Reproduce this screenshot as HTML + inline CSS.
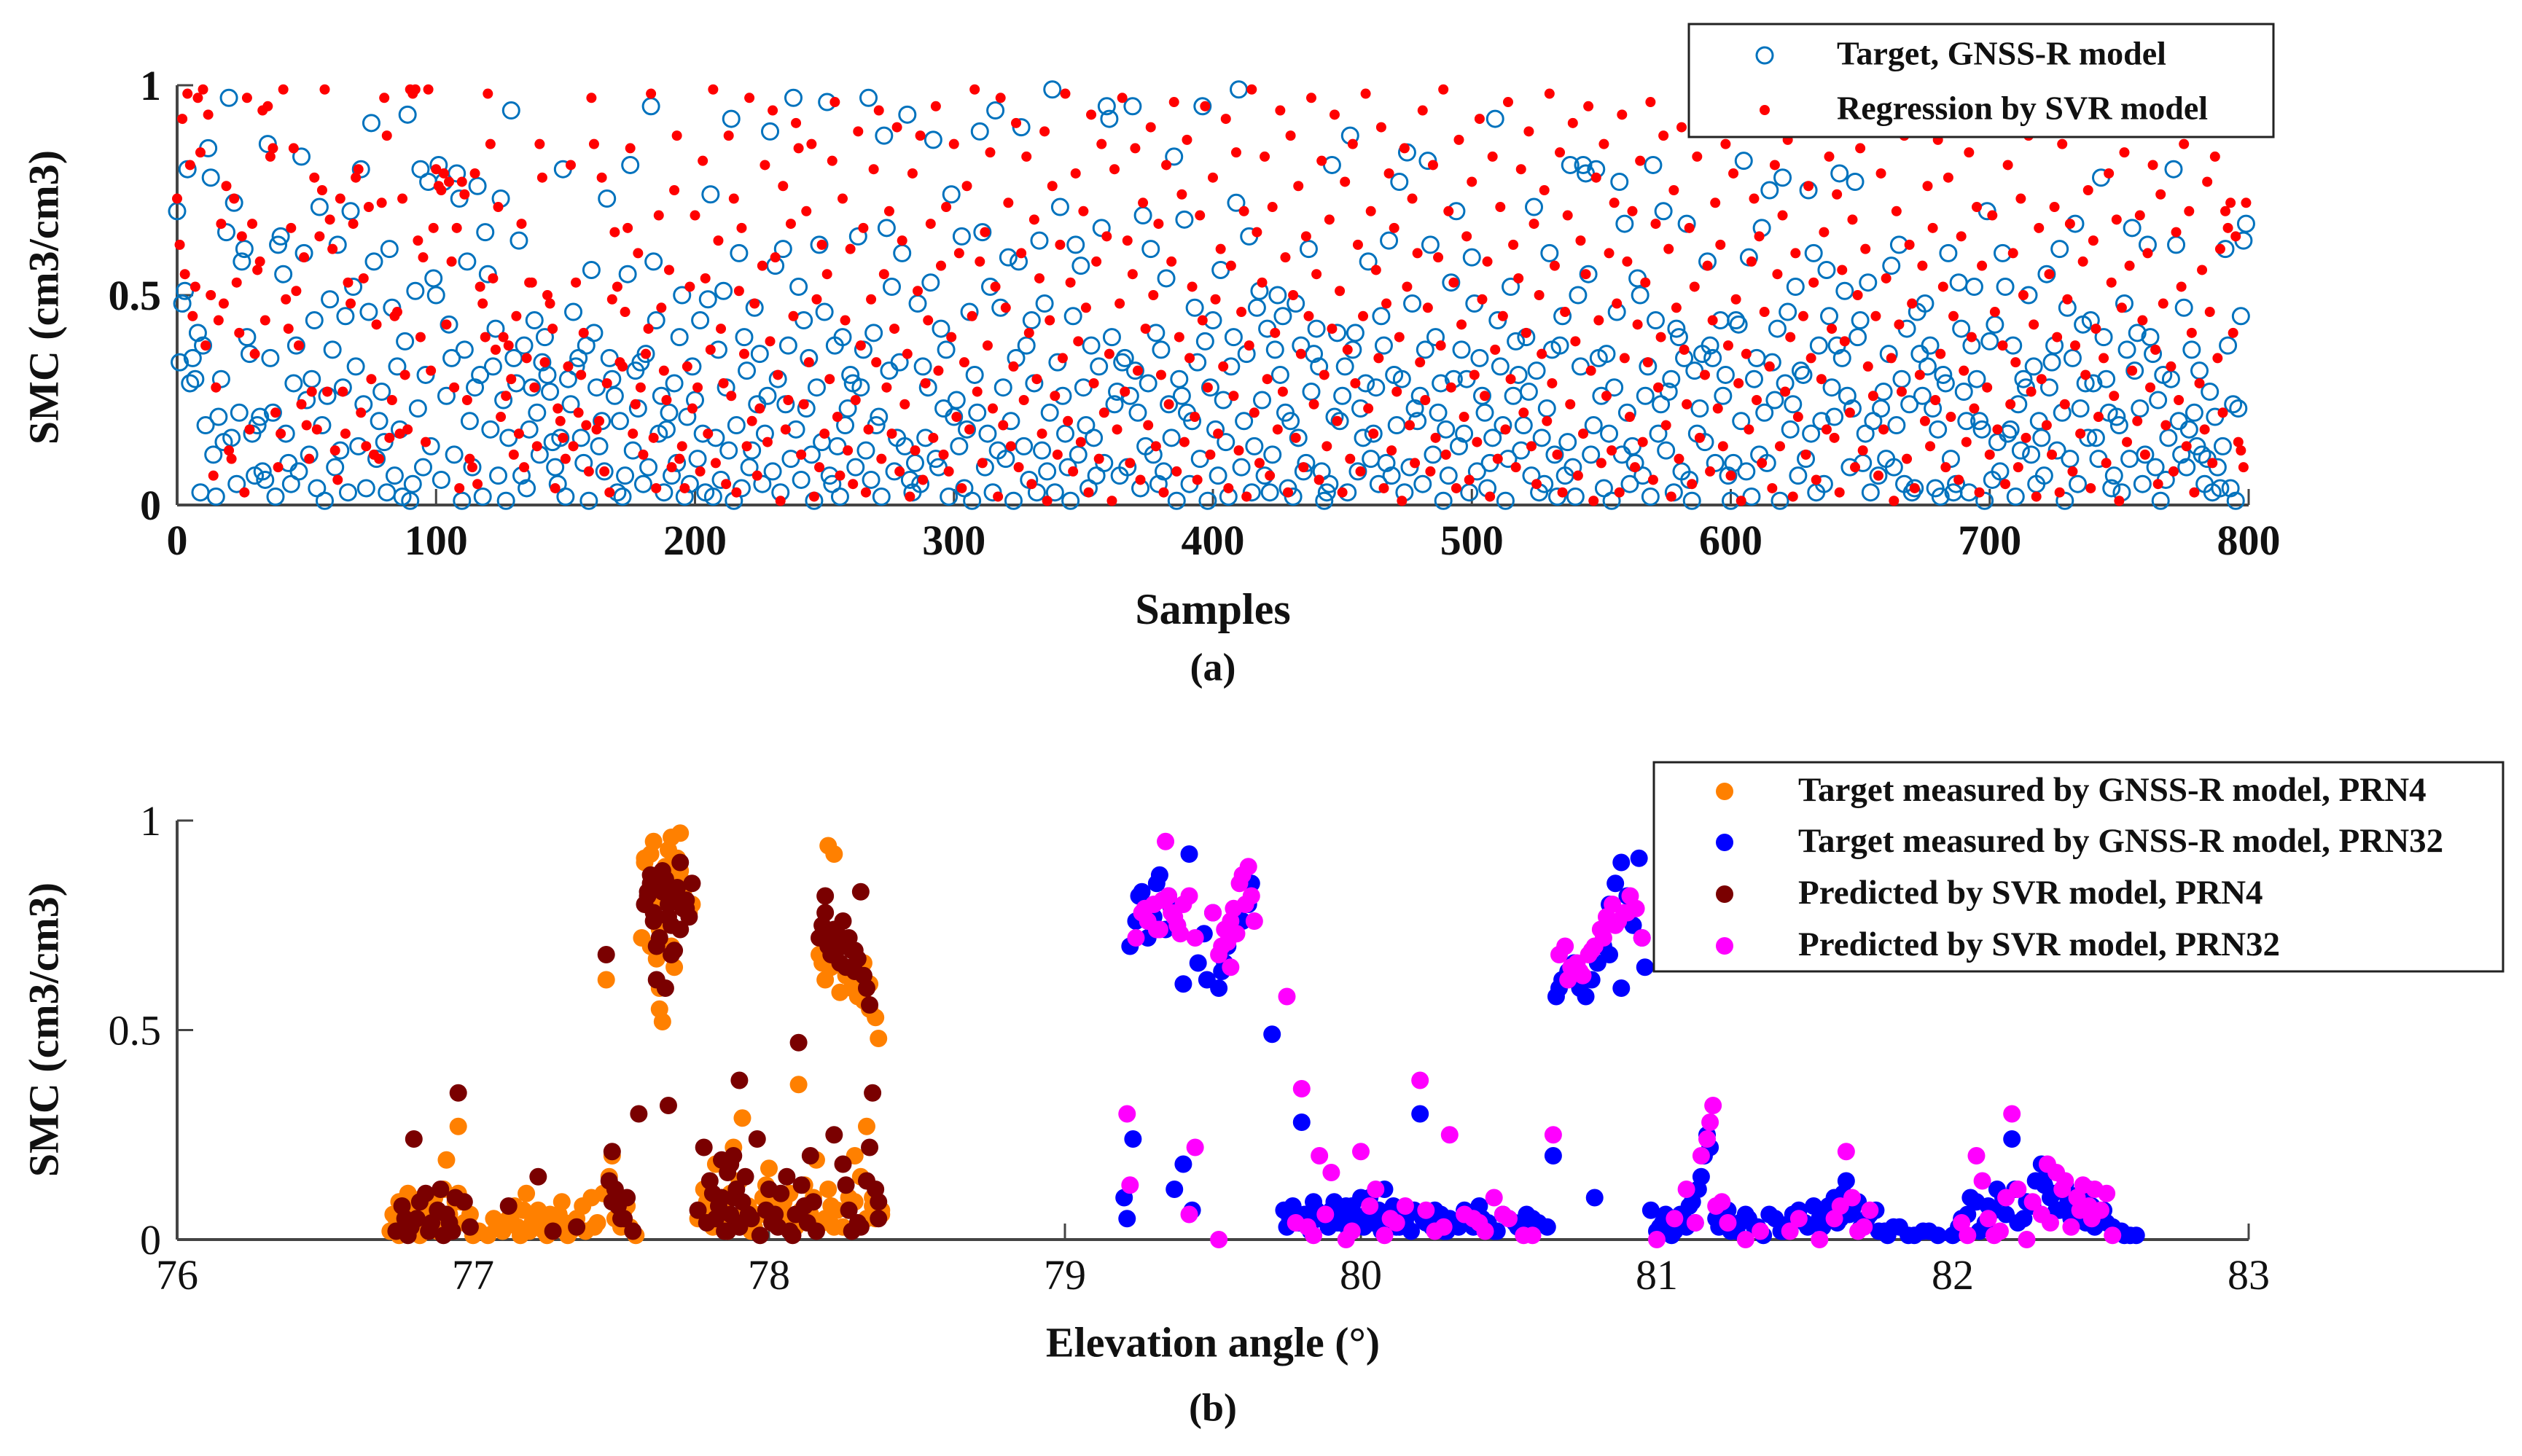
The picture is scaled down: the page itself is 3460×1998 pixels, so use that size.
<!DOCTYPE html>
<html><head><meta charset="utf-8"><title>SMC SVR charts</title>
<style>
html,body{margin:0;padding:0;background:#fff;}
svg{display:block;}
text{font-family:"Liberation Serif","Times New Roman",serif;fill:#111;}
</style></head>
<body>
<svg id="fig" xmlns="http://www.w3.org/2000/svg" width="3460" height="1998" viewBox="0 0 3460 1998">
<rect x="0" y="0" width="3460" height="1998" fill="#fff"/>
<g id="plotA"></g>
<g id="plotB"></g>

<text x="66" y="408" transform="rotate(-90 66 408)" text-anchor="middle" dominant-baseline="middle" font-size="58" font-weight="bold">SMC (cm3/cm3)</text>
<text x="1664" y="842" text-anchor="middle" dominant-baseline="middle" font-size="60" font-weight="bold">Samples</text>
<text x="1664" y="921" text-anchor="middle" dominant-baseline="middle" font-size="54" font-weight="bold">(a)</text>

<text x="66" y="1413" transform="rotate(-90 66 1413)" text-anchor="middle" dominant-baseline="middle" font-size="58" font-weight="bold">SMC (cm3/cm3)</text>
<text x="1664" y="1848" text-anchor="middle" dominant-baseline="middle" font-size="58" font-weight="bold">Elevation angle (°)</text>
<text x="1664" y="1937" text-anchor="middle" dominant-baseline="middle" font-size="54" font-weight="bold">(b)</text>

<g>
<rect x="2317" y="33" width="802" height="155" fill="#fff" stroke="#222" stroke-width="3"/>
<g>
<circle cx="2421" cy="76" r="11" fill="none" stroke="#0072BD" stroke-width="3"/>
<text x="2520" y="78" dominant-baseline="middle" font-size="46" font-weight="bold">Target, GNSS-R model</text>
</g>
<g>
<circle cx="2421" cy="151" r="7" fill="#f00"/>
<text x="2520" y="153" dominant-baseline="middle" font-size="46" font-weight="bold">Regression by SVR model</text>
</g>
</g>

<g>
<rect x="2269" y="1046" width="1165" height="287" fill="#fff" stroke="#222" stroke-width="3"/>
<g>
<circle cx="2366" cy="1086" r="12" fill="#FF8000"/>
<text x="2467" y="1088" dominant-baseline="middle" font-size="47" font-weight="bold">Target measured by GNSS-R model, PRN4</text>
</g>
<g>
<circle cx="2366" cy="1156" r="12" fill="#0000FF"/>
<text x="2467" y="1158" dominant-baseline="middle" font-size="47" font-weight="bold">Target measured by GNSS-R model, PRN32</text>
</g>
<g>
<circle cx="2366" cy="1227" r="12" fill="#7A0000"/>
<text x="2467" y="1229" dominant-baseline="middle" font-size="47" font-weight="bold">Predicted by SVR model, PRN4</text>
</g>
<g>
<circle cx="2366" cy="1298" r="12" fill="#FF00FF"/>
<text x="2467" y="1300" dominant-baseline="middle" font-size="47" font-weight="bold">Predicted by SVR model, PRN32</text>
</g>
</g>
</svg>

<script>
// ---------- Chart (a) data: values in percent SMC per sample ----------
const targetA = [
70,34,48,51,80,29,35,30,41,3,38,19,85,78,12,2,21,30,15,65,97,16,72,5,22,58,61,40,36,17,7,19,21,8,6,86,35,22,2,62,
64,55,17,10,5,29,38,8,83,60,25,12,30,44,4,71,19,1,26,49,37,9,62,13,28,45,3,70,52,33,14,80,24,4,46,91,58,11,20,27,
15,3,61,47,7,33,18,2,39,93,1,5,51,23,80,9,31,77,14,54,50,81,6,77,26,43,35,12,79,73,1,37,58,20,9,28,76,31,2,65,
55,18,33,42,7,73,25,1,16,94,35,29,63,7,38,4,18,28,44,22,12,34,40,31,27,15,9,5,16,80,2,30,24,46,33,35,16,10,38,1,
56,41,28,14,20,8,73,35,30,26,3,20,2,7,55,81,13,32,23,34,5,36,9,95,58,44,17,26,3,18,22,7,29,10,40,50,2,21,5,33,
25,11,44,17,3,49,74,2,16,37,6,51,28,13,92,1,19,60,4,40,32,9,13,47,24,36,5,17,26,89,8,57,30,3,61,24,38,11,97,18,
52,6,44,23,35,12,1,28,62,15,46,96,7,5,38,14,2,40,19,23,31,29,9,64,28,37,13,97,6,41,19,21,2,88,66,32,52,8,16,34,
60,14,93,6,3,10,48,5,33,16,28,53,87,11,9,42,23,37,2,74,21,25,14,64,4,18,46,1,31,22,89,65,9,17,52,3,94,13,47,28,
11,59,20,1,35,58,90,14,38,6,44,29,3,63,13,48,8,22,99,3,34,71,26,17,9,1,45,62,12,57,28,19,4,38,16,7,33,66,10,95,
92,40,24,27,7,34,35,9,26,95,32,22,4,69,14,29,61,12,41,5,37,8,54,24,16,83,1,30,26,68,22,5,20,47,34,11,95,39,1,28,
44,18,7,56,25,15,2,33,40,72,99,9,20,36,64,3,14,47,51,25,7,42,3,12,37,50,31,45,22,4,20,2,48,16,38,8,10,61,27,36,
42,33,8,1,3,5,81,21,41,20,26,33,3,88,37,41,8,23,16,29,58,11,17,28,5,45,38,10,63,7,31,19,77,30,3,84,9,48,23,20,
26,5,37,82,62,12,40,22,29,1,18,7,53,30,70,14,37,17,30,3,59,48,8,35,26,22,4,10,16,92,44,33,19,1,11,52,26,39,31,13,
19,40,27,7,71,32,3,16,5,23,60,37,12,2,38,45,7,15,81,9,2,50,33,81,79,55,12,19,80,35,26,4,36,17,1,28,46,77,12,67,
22,5,14,10,54,50,7,26,33,2,81,44,17,24,70,13,27,30,3,42,40,8,35,67,6,1,32,17,23,36,15,58,38,35,10,93,44,26,31,7,
1,10,44,43,20,82,8,59,2,30,35,12,66,22,10,75,34,25,42,1,78,29,46,18,24,52,7,32,31,11,75,17,60,3,38,20,5,56,45,28,
21,38,79,35,51,26,9,23,77,40,44,10,17,53,3,20,96,7,23,27,11,36,57,9,19,62,30,5,42,24,3,4,46,36,26,48,33,38,23,4,
18,2,31,29,60,11,3,5,53,42,27,20,3,38,52,30,20,18,1,70,39,6,43,15,8,60,52,17,18,38,2,24,13,30,28,50,12,33,5,20,
16,7,55,28,34,38,13,61,22,1,47,11,35,67,5,23,43,29,16,44,29,16,11,78,40,30,22,4,7,21,19,3,48,37,11,66,32,41,23,5,
12,62,40,36,9,25,1,31,6,16,30,80,62,20,12,47,9,18,37,22,14,32,12,5,11,27,3,21,9,4,14,61,38,4,24,1,23,45,63,67
];
const regressionA = [
73,62,92,55,98,81,45,52,97,84,99,38,93,50,7,28,44,67,48,76,13,11,73,53,41,64,3,97,18,67,36,56,58,94,44,95,83,85,22,9,
17,99,49,42,66,85,51,38,24,59,19,11,27,78,18,64,75,99,27,68,61,13,6,73,27,17,53,48,67,78,80,22,54,14,71,30,12,43,11,72,
97,88,16,25,45,46,17,73,31,18,99,98,99,63,40,59,15,99,32,66,80,76,75,79,43,77,58,28,66,4,77,74,25,11,9,79,5,52,48,40,
98,86,54,37,71,21,40,26,38,30,12,45,17,67,9,35,53,53,28,14,86,78,34,50,48,42,4,23,20,16,11,33,81,14,53,22,31,41,19,8,
97,86,18,20,78,8,29,3,49,65,52,34,33,46,66,85,17,24,60,28,12,36,42,98,16,4,69,47,32,25,56,9,75,88,11,14,4,33,52,23,
69,28,8,82,54,17,37,99,10,63,42,29,5,88,26,73,3,51,66,36,14,97,20,48,7,23,57,81,15,39,94,59,31,1,76,18,25,67,45,91,
85,12,24,70,34,86,2,49,9,62,17,55,30,82,96,21,7,73,44,13,61,5,25,89,38,66,3,18,49,80,34,94,11,55,28,70,17,42,90,8,
63,24,36,2,79,13,51,88,6,29,44,67,16,95,32,57,12,71,8,40,86,21,60,4,34,76,18,45,99,27,58,10,65,38,84,23,52,2,97,19,
47,72,14,33,91,9,60,25,83,41,5,68,30,54,17,89,1,44,76,26,12,62,35,98,20,53,8,79,39,15,70,47,3,93,29,58,11,86,22,64,
36,1,80,18,48,97,27,63,10,55,85,32,6,72,42,19,90,50,14,67,31,3,81,24,58,96,8,40,74,15,87,35,52,21,6,69,44,95,28,12,
78,49,17,61,33,92,4,57,26,84,13,46,70,2,38,99,22,65,10,53,83,30,7,71,41,18,94,27,59,3,88,50,16,76,36,9,64,45,97,24,
55,6,82,31,14,68,42,93,20,51,3,77,37,11,86,29,62,8,45,98,23,70,17,56,35,90,4,48,79,13,66,27,40,1,85,52,19,73,10,60,
34,94,25,47,8,81,16,59,38,99,12,70,28,53,4,87,43,21,64,6,77,31,15,92,49,26,58,2,83,37,11,71,45,18,96,30,62,9,54,80,
22,41,89,14,67,5,50,36,75,20,98,29,57,12,84,3,46,69,24,91,39,7,63,17,55,95,32,1,78,44,10,86,26,60,13,72,48,3,93,35,
58,21,70,9,43,82,15,53,34,96,6,67,28,40,88,19,61,2,75,47,11,90,37,24,66,5,52,83,16,99,31,57,8,44,72,23,62,14,86,38,
7,79,49,29,1,94,36,18,58,73,25,64,10,46,92,33,4,81,55,14,69,27,87,40,2,60,21,97,45,12,76,35,53,6,89,30,65,18,83,42,
16,74,3,56,39,90,22,68,9,50,85,13,61,33,98,26,45,7,79,18,54,92,35,1,70,43,27,88,11,62,48,4,95,31,57,20,76,14,66,25,
87,36,52,9,78,21,45,97,6,64,32,15,84,40,23,71,3,57,93,28,12,69,46,18,99,38,5,81,24,60,34,9,73,50,16,88,27,43,2,66,
30,93,19,55,12,71,40,3,86,24,49,67,8,38,95,17,58,31,75,4,63,42,21,90,35,10,79,53,26,68,1,47,84,15,57,32,97,20,69,44,
12,60,28,81,37,5,74,48,19,92,33,8,65,25,52,86,14,70,41,3,97,29,56,18,77,46,10,83,35,61,22,70,66,72,41,64,15,13,9,72
];
const xTicksA = [0,100,200,300,400,500,600,700,800];
const yTicksA = [0,0.5,1];
const yTickLabelsA = ["0","0.5","1"];

// ---------- Chart (b) data ----------
const prn4TargetX = [76.72,76.74,76.75,76.77,76.78,76.80,76.82,76.83,76.85,76.87,76.88,76.90,76.92,76.93,76.95,76.96,76.98,77.00,76.76,76.84,76.91,76.95,76.79,76.86,76.89,
77.05,77.08,77.10,77.12,77.14,77.16,77.18,77.20,77.22,77.24,77.26,77.28,77.30,77.32,77.35,77.38,77.40,77.42,77.45,77.46,77.47,77.50,77.52,77.55,77.13,77.21,77.27,
77.57,77.58,77.60,77.61,77.62,77.63,77.64,77.65,77.66,77.67,77.68,77.70,77.72,77.74,77.60,77.63,77.66,77.70,77.62,77.64,77.58,77.69,77.73,
77.78,77.80,77.82,77.84,77.86,77.88,77.90,77.92,77.95,77.98,78.00,78.02,78.05,78.08,78.10,78.12,78.14,78.16,78.18,78.20,78.22,78.24,78.26,78.28,78.30,78.32,78.34,78.36,78.37,
78.18,78.20,78.23,78.27,78.31,78.35,78.38,78.25,78.30,78.17,78.22,78.29,78.33,78.36,77.83,77.91,78.04,78.13,
76.73,76.75,76.78,76.81,76.83,76.86,76.88,76.92,76.94,76.97,76.99,77.02,77.07,77.11,77.15,77.17,77.19,77.23,77.25,77.29,77.31,77.33,77.37,77.41,77.44,77.48,77.51,77.53,
77.76,77.79,77.81,77.85,77.87,77.89,77.93,77.94,77.97,77.99,78.01,78.03,78.06,78.07,78.09,78.11,78.15,78.19,78.21,78.25,78.29,78.33,78.35,78.38,
77.61,77.63,77.65,77.67,77.69,77.71,78.19,78.21,78.24,78.28,78.32,78.34];
const prn4TargetY = [0.02,0.05,0.09,0.03,0.11,0.06,0.01,0.08,0.04,0.10,0.02,0.12,0.06,0.03,0.27,0.09,0.04,0.01,0.07,0.05,0.19,0.11,0.02,0.08,0.04,
0.01,0.03,0.02,0.05,0.08,0.01,0.11,0.04,0.07,0.02,0.06,0.03,0.09,0.01,0.05,0.02,0.10,0.04,0.62,0.15,0.20,0.03,0.08,0.01,0.06,0.03,0.02,
0.72,0.90,0.92,0.95,0.67,0.55,0.52,0.89,0.86,0.96,0.65,0.97,0.85,0.80,0.70,0.60,0.93,0.88,0.82,0.76,0.91,0.84,0.78,
0.12,0.05,0.18,0.08,0.02,0.22,0.14,0.07,0.03,0.10,0.17,0.05,0.09,0.02,0.37,0.13,0.06,0.19,0.66,0.94,0.92,0.70,0.63,0.60,0.58,0.66,0.55,0.53,0.48,
0.04,0.12,0.07,0.10,0.15,0.08,0.06,0.71,0.62,0.68,0.03,0.20,0.27,0.05,0.06,0.29,0.11,0.04,
0.06,0.01,0.08,0.03,0.10,0.05,0.07,0.02,0.09,0.04,0.06,0.02,0.05,0.04,0.03,0.07,0.02,0.05,0.01,0.06,0.04,0.02,0.08,0.03,0.11,0.05,0.07,0.03,
0.05,0.09,0.03,0.06,0.11,0.04,0.08,0.02,0.06,0.13,0.04,0.09,0.06,0.11,0.03,0.07,0.10,0.05,0.08,0.03,0.09,0.05,0.10,0.07,
0.80,0.74,0.87,0.70,0.91,0.83,0.62,0.65,0.59,0.64,0.57,0.61];
const prn4PredX = [76.74,76.76,76.78,76.81,76.84,76.86,76.89,76.91,76.93,76.95,76.97,76.99,76.80,76.90,
77.12,77.22,77.35,77.45,77.47,77.48,77.49,77.50,77.52,77.54,77.56,
77.58,77.59,77.60,77.61,77.62,77.63,77.64,77.65,77.66,77.67,77.68,77.69,77.70,77.71,77.72,77.73,77.74,77.62,77.65,77.67,77.60,
77.66,77.76,77.78,77.80,77.82,77.84,77.86,77.88,77.90,77.93,77.96,78.00,78.03,78.06,78.08,78.10,78.12,78.14,
78.17,78.18,78.19,78.20,78.21,78.22,78.23,78.24,78.25,78.26,78.27,78.28,78.29,78.30,78.31,78.32,78.33,78.34,78.35,78.36,78.37,
78.22,78.26,78.30,78.34,78.37,78.28,77.84,77.87,77.89,78.02,
76.77,76.79,76.82,76.85,76.88,76.92,76.94,77.27,77.46,77.47,77.51,
77.79,77.81,77.83,77.85,77.86,77.87,77.88,77.89,77.90,77.91,77.92,77.94,77.97,77.99,78.01,78.04,78.07,78.09,78.11,78.13,78.15,78.16,78.25,78.27,78.31,78.33,
77.59,77.61,77.63,77.64,77.66,77.68,77.70,77.72,78.19,78.21,78.23,78.25,78.29];
const prn4PredY = [0.02,0.08,0.01,0.05,0.11,0.04,0.12,0.06,0.02,0.35,0.09,0.03,0.24,0.01,
0.08,0.15,0.03,0.68,0.21,0.12,0.08,0.05,0.10,0.02,0.30,
0.80,0.83,0.85,0.78,0.70,0.72,0.88,0.86,0.80,0.75,0.69,0.84,0.90,0.79,0.81,0.77,0.85,0.62,0.60,0.68,0.87,
0.32,0.07,0.22,0.14,0.05,0.19,0.02,0.10,0.38,0.06,0.24,0.12,0.03,0.15,0.01,0.47,0.08,0.20,
0.72,0.75,0.82,0.70,0.68,0.74,0.73,0.66,0.70,0.65,0.72,0.69,0.64,0.67,0.83,0.63,0.60,0.56,0.35,0.12,0.05,
0.25,0.13,0.04,0.22,0.09,0.02,0.10,0.18,0.04,0.06,
0.05,0.03,0.09,0.02,0.07,0.04,0.10,0.02,0.14,0.09,0.05,
0.04,0.11,0.08,0.02,0.16,0.06,0.20,0.12,0.03,0.09,0.15,0.05,0.01,0.07,0.04,0.11,0.02,0.06,0.13,0.04,0.09,0.02,0.18,0.07,0.03,0.14,
0.82,0.76,0.86,0.83,0.77,0.81,0.74,0.79,0.78,0.73,0.70,0.76,0.69];
const prn32TargetX = [79.20,79.22,79.24,79.25,79.26,79.27,79.28,79.30,79.31,79.32,79.34,79.35,79.36,79.38,79.40,79.42,79.45,79.47,79.48,79.50,79.52,79.53,79.54,79.55,79.56,79.57,79.58,79.60,79.62,79.63,
79.70,79.74,79.76,79.78,79.80,79.82,79.84,79.86,79.88,79.90,79.92,79.95,79.98,80.00,80.02,80.05,80.08,80.10,80.13,80.16,80.20,80.22,80.25,80.28,80.30,80.33,80.36,80.40,80.43,80.46,80.50,80.53,80.56,80.60,80.63,
79.21,79.23,79.37,79.40,79.43,80.65,80.66,80.67,80.68,80.70,80.72,80.74,80.76,80.78,80.80,80.82,80.84,80.86,80.88,80.90,80.92,80.94,80.95,80.96,80.88,80.84,
80.79,80.98,81.00,81.02,81.05,81.08,81.10,81.12,81.14,81.16,81.17,81.18,81.20,81.22,81.25,81.28,81.30,81.33,81.36,81.40,81.43,81.46,81.50,81.53,81.56,81.60,81.62,81.64,81.66,81.68,81.70,81.72,81.75,81.78,81.80,81.85,81.90,81.95,82.00,
82.03,82.06,82.09,82.12,82.15,82.18,82.20,82.22,82.25,82.28,82.30,82.32,82.34,82.36,82.38,82.40,82.42,82.44,82.46,82.48,82.50,82.52,82.55,82.58,82.62,
79.75,79.77,79.79,79.81,79.83,79.85,79.87,79.89,79.91,79.93,79.94,79.96,79.97,79.99,80.01,80.03,80.04,80.06,80.07,80.09,80.11,80.12,80.14,80.15,80.17,80.18,80.21,80.24,80.27,80.29,80.32,80.35,80.38,80.41,80.45,80.48,80.52,80.55,80.58,
81.01,81.03,81.06,81.09,81.11,81.13,81.15,81.21,81.24,81.27,81.31,81.34,81.38,81.42,81.45,81.48,81.51,81.55,81.58,81.61,81.63,81.65,81.67,81.69,81.71,81.74,81.77,81.82,81.87,81.92,
82.02,82.05,82.08,82.11,82.14,82.17,82.21,82.24,82.27,82.31,82.33,82.35,82.37,82.39,82.41,82.43,82.45,82.47,82.49,82.51,82.54,82.57,82.60];
const prn32TargetY = [0.10,0.70,0.76,0.82,0.83,0.78,0.72,0.77,0.85,0.87,0.74,0.82,0.79,0.75,0.61,0.92,0.66,0.73,0.62,0.78,0.60,0.64,0.66,0.70,0.74,0.76,0.78,0.76,0.80,0.85,
0.49,0.07,0.05,0.06,0.28,0.03,0.09,0.05,0.06,0.07,0.04,0.08,0.03,0.10,0.06,0.04,0.12,0.05,0.03,0.06,0.30,0.04,0.07,0.02,0.05,0.03,0.06,0.08,0.04,0.02,0.05,0.03,0.06,0.04,0.03,
0.05,0.24,0.12,0.18,0.07,0.20,0.58,0.60,0.62,0.64,0.66,0.60,0.58,0.62,0.66,0.70,0.80,0.85,0.90,0.82,0.75,0.91,0.72,0.65,0.60,0.68,
0.10,0.07,0.02,0.04,0.01,0.06,0.03,0.09,0.12,0.20,0.25,0.22,0.05,0.08,0.02,0.04,0.06,0.03,0.01,0.05,0.02,0.06,0.04,0.08,0.03,0.10,0.05,0.14,0.07,0.09,0.04,0.06,0.02,0.01,0.03,0.01,0.02,0.01,0.01,
0.05,0.10,0.02,0.08,0.12,0.06,0.24,0.04,0.09,0.14,0.18,0.16,0.11,0.07,0.13,0.05,0.10,0.08,0.12,0.03,0.06,0.04,0.02,0.01,0.01,
0.03,0.08,0.04,0.06,0.02,0.07,0.05,0.03,0.09,0.04,0.06,0.02,0.08,0.05,0.03,0.10,0.04,0.07,0.02,0.05,0.08,0.03,0.06,0.04,0.02,0.07,0.05,0.03,0.06,0.02,0.04,0.07,0.03,0.05,0.02,0.06,0.04,0.02,0.05,
0.03,0.06,0.02,0.05,0.08,0.04,0.15,0.03,0.07,0.02,0.05,0.03,0.06,0.02,0.04,0.07,0.03,0.05,0.08,0.04,0.11,0.06,0.09,0.03,0.05,0.07,0.02,0.03,0.01,0.02,
0.03,0.06,0.09,0.04,0.07,0.10,0.12,0.05,0.08,0.13,0.10,0.07,0.12,0.09,0.06,0.11,0.04,0.08,0.05,0.07,0.03,0.02,0.01];
const prn32PredX = [79.21,79.24,79.26,79.28,79.30,79.32,79.34,79.35,79.36,79.38,79.40,79.42,79.44,79.50,79.52,79.54,79.55,79.56,79.57,79.58,79.59,79.60,79.62,79.63,79.64,
79.22,79.42,79.44,79.52,79.75,79.78,79.80,79.84,79.86,79.90,79.95,80.00,80.05,80.10,80.15,80.20,80.25,80.30,80.35,80.40,80.45,80.50,80.55,80.65,
80.67,80.69,80.71,80.73,80.75,80.77,80.79,80.81,80.83,80.85,80.87,80.89,80.91,80.93,80.95,
81.00,81.06,81.10,81.15,81.17,81.18,81.19,81.20,81.24,81.30,81.45,81.55,81.60,81.64,81.66,81.68,81.72,
82.03,82.05,82.08,82.10,82.14,82.18,82.20,82.22,82.25,82.30,82.32,82.35,82.38,82.40,82.42,82.44,82.46,82.48,82.50,82.52,82.54,
79.27,79.31,79.33,79.37,79.39,79.53,79.56,79.61,80.70,80.74,80.78,80.82,80.86,80.90,
79.82,79.88,79.97,80.03,80.08,80.12,80.22,80.28,80.38,80.42,80.48,80.58,81.13,81.22,81.35,81.48,81.62,81.70,82.12,82.16,82.27,82.33,82.37,82.43,82.47];
const prn32PredY = [0.30,0.72,0.78,0.76,0.80,0.74,0.95,0.82,0.78,0.75,0.80,0.82,0.72,0.78,0.68,0.74,0.71,0.65,0.79,0.73,0.85,0.87,0.89,0.82,0.76,
0.13,0.06,0.22,0.00,0.58,0.04,0.36,0.01,0.20,0.16,0.00,0.21,0.12,0.05,0.08,0.38,0.02,0.25,0.06,0.04,0.10,0.05,0.01,0.25,
0.68,0.70,0.65,0.66,0.63,0.68,0.70,0.74,0.77,0.80,0.76,0.78,0.82,0.79,0.72,
0.00,0.05,0.12,0.20,0.24,0.28,0.32,0.08,0.04,0.00,0.02,0.00,0.05,0.21,0.10,0.02,0.07,
0.04,0.01,0.20,0.14,0.01,0.10,0.30,0.12,0.00,0.06,0.18,0.16,0.14,0.03,0.10,0.13,0.08,0.12,0.07,0.11,0.01,
0.79,0.74,0.81,0.77,0.73,0.70,0.76,0.80,0.62,0.64,0.69,0.72,0.75,0.78,
0.03,0.06,0.02,0.08,0.01,0.04,0.07,0.03,0.05,0.02,0.06,0.01,0.04,0.09,0.02,0.05,0.08,0.03,0.05,0.02,0.09,0.04,0.12,0.07,0.05];
const xTicksB = [76,77,78,79,80,81,82,83];
const yTicksB = [0,0.5,1];
const yTickLabelsB = ["0","0.5","1"];

const NS = "http://www.w3.org/2000/svg";
function mk(tag, attrs, parent){
  const el = document.createElementNS(NS, tag);
  for (const k in attrs) el.setAttribute(k, attrs[k]);
  parent.appendChild(el);
  return el;
}

const A = {x0:243, x1:3085, y0:693, y1:117, xmin:0, xmax:800};
const B = {x0:243, x1:3085, y0:1701, y1:1126, xmin:76, xmax:83};
function sx(ax, v){ return ax.x0 + (v - ax.xmin) / (ax.xmax - ax.xmin) * (ax.x1 - ax.x0); }
function sy(ax, v){ return ax.y0 + v * (ax.y1 - ax.y0); }

function drawAxes(g, ax, xt, yt, ytl, bold, tag){
  const axisColor = "#444";
  const yl = mk("line", {x1:ax.x0, y1:ax.y0, x2:ax.x0, y2:ax.y1, stroke:axisColor, "stroke-width":4}, g);
  
  
  const xl = mk("line", {x1:ax.x0, y1:ax.y0, x2:ax.x1, y2:ax.y0, stroke:axisColor, "stroke-width":4}, g);
  
  
  xt.forEach(function(v){
    const x = sx(ax, v);
    const t = mk("line", {x1:x, y1:ax.y0, x2:x, y2:ax.y0 - 22, stroke:axisColor, "stroke-width":3}, g);
    
    
    const lb = mk("text", {x:x, y:ax.y0 + 68, "text-anchor":"middle", "font-size":58, "font-weight": bold ? "bold" : "normal"}, g);
    lb.textContent = String(v);
    
    
  });
  yt.forEach(function(v, i){
    const y = sy(ax, v);
    const t = mk("line", {x1:ax.x0, y1:y, x2:ax.x0 + 22, y2:y, stroke:axisColor, "stroke-width":3}, g);
    
    
    const lb = mk("text", {x:ax.x0 - 22, y:y + 20, "text-anchor":"end", "font-size":58, "font-weight": bold ? "bold" : "normal"}, g);
    lb.textContent = ytl[i];
    
    
  });
}

const gA = document.getElementById("plotA");
drawAxes(gA, A, xTicksA, yTicksA, yTickLabelsA, true, "chart-a");
const gTarget = mk("g", {}, gA);


targetA.forEach(function(v, i){
  const c = mk("circle", {cx:sx(A, i), cy:sy(A, v/100), r:11, fill:"none", stroke:"#0072BD", "stroke-width":3}, gTarget);
  
  
});
const gReg = mk("g", {}, gA);


regressionA.forEach(function(v, i){
  const c = mk("circle", {cx:sx(A, i), cy:sy(A, v/100), r:7, fill:"#FF0000"}, gReg);
  
  
});

const gB = document.getElementById("plotB");
drawAxes(gB, B, xTicksB, yTicksB, yTickLabelsB, false, "chart-b");
function drawDots(xs, ys, color, name){
  const g = mk("g", {}, gB);
  
  
  xs.forEach(function(xv, i){
    const c = mk("circle", {cx:sx(B, xv), cy:sy(B, ys[i]), r:12, fill:color}, g);
    
    
  });
}
drawDots(prn4TargetX, prn4TargetY, "#FF8000", "series-target-prn4");
drawDots(prn4PredX, prn4PredY, "#7A0000", "series-predicted-prn4");
drawDots(prn32TargetX, prn32TargetY, "#0000FF", "series-target-prn32");
drawDots(prn32PredX, prn32PredY, "#FF00FF", "series-predicted-prn32");
</script>
</body></html>
